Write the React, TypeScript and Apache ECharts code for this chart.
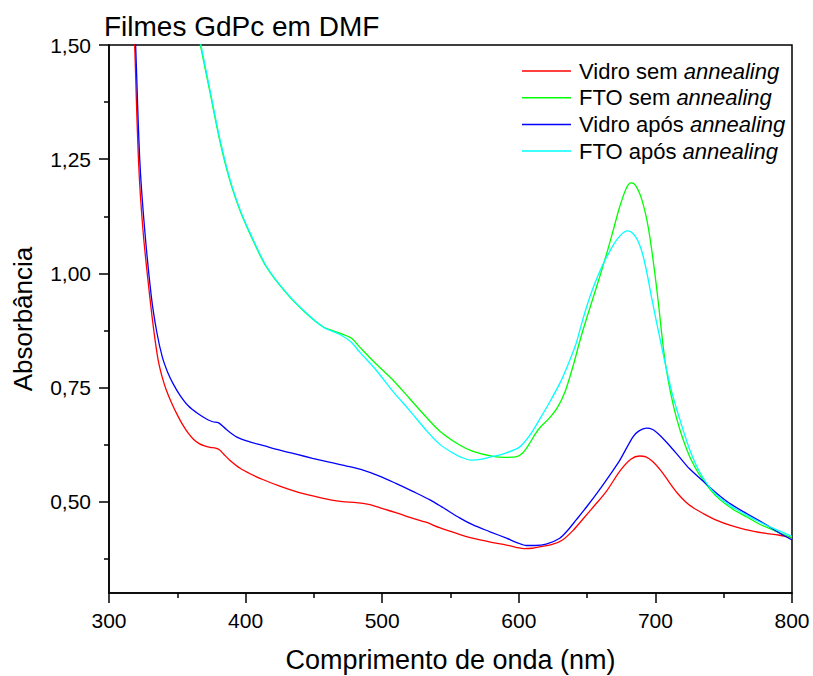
import React, { useEffect, useRef } from "react";
import * as echarts from "echarts";

// [comprimento de onda (nm), absorbância]
const vidroSemAnnealing = [
  [316, 1.76], [318.8, 1.5], [321.7, 1.24], [325, 1.09], [329.8, 0.95], [333, 0.87], [336, 0.81],
  [339, 0.772], [342, 0.744], [346, 0.715], [350, 0.69], [354, 0.668], [358, 0.65], [362, 0.636],
  [366, 0.627], [370, 0.622], [374, 0.619], [378, 0.617], [381, 0.613], [384, 0.604], [388, 0.592],
  [396, 0.573], [404, 0.56], [413, 0.548], [425, 0.534], [437, 0.522], [450, 0.512], [462, 0.504],
  [471, 0.5], [481, 0.498], [490, 0.494], [498, 0.487], [510, 0.476], [522, 0.464], [532, 0.455],
  [542, 0.443], [557, 0.428], [566, 0.42], [580, 0.411], [591, 0.405], [598, 0.4], [604, 0.397],
  [610, 0.398], [615, 0.401], [625, 0.407], [632, 0.416], [640, 0.438], [647, 0.462], [655, 0.49],
  [664, 0.522], [674, 0.567], [682, 0.593], [688.5, 0.6], [693, 0.598], [698, 0.588], [704, 0.568],
  [710, 0.543], [716, 0.519], [722, 0.5], [728, 0.486], [735, 0.474], [745, 0.459], [755, 0.448],
  [766, 0.439], [780, 0.431], [790, 0.427], [800, 0.421],
];

const ftoSemAnnealing = [
  [360, 1.61], [366.9, 1.5], [373.7, 1.4], [381, 1.292], [388.4, 1.204], [395.7, 1.139], [403, 1.088],
  [415, 1.015], [430, 0.956], [444.5, 0.912], [456.7, 0.883], [469, 0.869], [477.5, 0.858],
  [483.4, 0.839], [495, 0.803], [508, 0.766], [520, 0.726], [532, 0.686], [542, 0.655], [556.7, 0.624],
  [566.5, 0.61], [581, 0.599], [590, 0.597], [598, 0.598], [603, 0.607], [608, 0.628], [612, 0.648],
  [616, 0.664], [622, 0.682], [628, 0.705], [634, 0.742], [640, 0.8], [645, 0.855], [650, 0.905],
  [655, 0.952], [660, 1.0], [665, 1.05], [669, 1.093], [673, 1.137], [676.3, 1.168], [679, 1.188],
  [681.7, 1.198], [684, 1.197], [686, 1.19], [688, 1.178], [690, 1.162], [692, 1.14], [694, 1.113],
  [696, 1.078], [698, 1.036], [700, 0.99], [702, 0.94], [704, 0.885], [706, 0.832], [708, 0.79],
  [710.5, 0.748], [714, 0.7], [718, 0.657], [722, 0.622], [726, 0.593], [732, 0.56], [740, 0.527],
  [747, 0.505], [757, 0.483], [766.6, 0.467], [776, 0.451], [786, 0.438], [800, 0.42],
];

const vidroAposAnnealing = [
  [316, 1.78], [319.5, 1.5], [322.5, 1.25], [326, 1.1], [331, 0.949], [335, 0.871], [339, 0.817],
  [343, 0.783], [347, 0.758], [352, 0.733], [358, 0.71], [365, 0.693], [372, 0.68], [376, 0.675],
  [380, 0.673], [386, 0.658], [393.3, 0.642], [403, 0.631], [414, 0.622], [425, 0.613], [437, 0.604],
  [449, 0.595], [462, 0.586], [474, 0.578], [486, 0.569], [498, 0.556], [510, 0.54], [522, 0.523],
  [535, 0.504], [545, 0.486], [557, 0.464], [566.5, 0.449], [579, 0.434], [591, 0.42], [599, 0.41],
  [605.6, 0.404], [612, 0.404], [620, 0.407], [630, 0.42], [636, 0.438], [642, 0.46], [650, 0.49],
  [659, 0.526], [667, 0.56], [674, 0.591], [683.6, 0.642], [688, 0.655], [693.4, 0.661], [698, 0.658],
  [703, 0.646], [710, 0.624], [717.8, 0.597], [725, 0.572], [736, 0.542], [745, 0.518], [754, 0.497],
  [765, 0.477], [779, 0.453], [790, 0.433], [800, 0.416],
];

const ftoAposAnnealing = [
  [360, 1.61], [367.3, 1.5], [374, 1.4], [381.3, 1.292], [388.7, 1.204], [396, 1.139], [403.3, 1.088],
  [415.3, 1.015], [430.3, 0.956], [444.8, 0.912], [457, 0.882], [469, 0.866], [477, 0.85],
  [483.4, 0.828], [495, 0.79], [508, 0.741], [520, 0.7], [532, 0.657], [542, 0.626], [552, 0.606],
  [558, 0.597], [565, 0.591], [573, 0.593], [581, 0.599], [591, 0.607], [600.7, 0.62], [608, 0.645],
  [615, 0.679], [622, 0.715], [630, 0.759], [636, 0.8], [642, 0.847], [646, 0.89], [650, 0.93],
  [654, 0.965], [658, 0.995], [662, 1.022], [666, 1.045], [670, 1.066], [674, 1.082], [677, 1.09],
  [679.5, 1.093], [682, 1.091], [685, 1.082], [688, 1.066], [691, 1.038], [694, 0.998], [697, 0.95],
  [700.7, 0.895], [704, 0.848], [707, 0.805], [712, 0.74], [717.7, 0.682], [725, 0.615], [732.4, 0.565],
  [742, 0.523], [754, 0.493], [766.6, 0.471], [776, 0.456], [786, 0.442], [800, 0.424],
];

const seriesNames = ["Vidro sem annealing", "FTO sem annealing", "Vidro após annealing", "FTO após annealing"];
const seriesColors = ["#ff0000", "#00ff00", "#0000ff", "#00ffff"];
const seriesData = [vidroSemAnnealing, ftoSemAnnealing, vidroAposAnnealing, ftoAposAnnealing];

const yMajorTicks = [0.5, 0.75, 1.0, 1.25, 1.5];
const yMinorTicks = [0.375, 0.625, 0.875, 1.125, 1.375];

const FONT = "'Liberation Sans', Arial, sans-serif";

export default function App() {
  const ref = useRef<HTMLDivElement>(null);
  useEffect(() => {
    if (!ref.current) return;
    const chart = echarts.init(ref.current, null, { renderer: "svg" });
    const fmt = (v: number) => v.toFixed(2).replace(".", ",");
    chart.setOption({
      animation: false,
      backgroundColor: "#ffffff",
      textStyle: { fontFamily: FONT },
      title: {
        text: "Filmes GdPc em DMF",
        left: 104,
        top: 12,
        padding: 0,
        textStyle: { fontFamily: FONT, fontSize: 28, fontWeight: "normal", color: "#000" },
      },
      legend: {
        orient: "vertical",
        left: 522,
        top: 60,
        padding: 0,
        itemWidth: 49,
        itemHeight: 1.5,
        itemGap: 4.7,
        icon: "rect",
        data: seriesNames.map((n, i) => ({ name: n, itemStyle: { color: seriesColors[i] } })),
        formatter: (name: string) => name.replace("annealing", "{i|annealing}"),
        textStyle: {
          fontFamily: FONT,
          fontSize: 22,
          lineHeight: 22,
          color: "#000",
          padding: [0, 0, 0, 3],
          rich: { i: { fontFamily: FONT, fontSize: 22, lineHeight: 22, fontStyle: "italic", color: "#000" } },
        },
      },
      grid: {
        left: 109,
        right: 21,
        top: 45,
        bottom: 83,
        outerBoundsMode: "none",
        containLabel: false,
        show: true,
        borderColor: "#000",
        borderWidth: 1.5,
        backgroundColor: "transparent",
      },
      xAxis: {
        type: "value",
        min: 300,
        max: 800,
        interval: 100,
        name: "Comprimento de onda (nm)",
        nameLocation: "middle",
        nameGap: 53,
        nameTextStyle: { fontFamily: FONT, fontSize: 27, color: "#000" },
        axisLine: { show: true, lineStyle: { color: "#000", width: 1.5 } },
        axisTick: { show: true, inside: false, length: 10, lineStyle: { color: "#000", width: 1.5 } },
        minorTick: { show: true, splitNumber: 2, length: 5, lineStyle: { color: "#000", width: 1.5 } },
        axisLabel: { fontFamily: FONT, fontSize: 21, color: "#000", margin: 17 },
        splitLine: { show: false },
      },
      yAxis: [
        {
          type: "value",
          min: 0.3,
          max: 1.5,
          name: "Absorbância",
          nameLocation: "middle",
          nameRotate: 90,
          nameGap: 73,
          nameTextStyle: { fontFamily: FONT, fontSize: 26, color: "#000" },
          axisLine: { show: true, lineStyle: { color: "#000", width: 1.5 } },
          axisTick: {
            show: true,
            inside: false,
            length: 10,
            customValues: yMajorTicks,
            lineStyle: { color: "#000", width: 1.5 },
          },
          axisLabel: {
            fontFamily: FONT,
            fontSize: 21,
            color: "#000",
            margin: 18,
            customValues: yMajorTicks,
            formatter: fmt,
          },
          splitLine: { show: false },
        },
        {
          type: "value",
          min: 0.3,
          max: 1.5,
          position: "left",
          axisLine: { show: false },
          axisTick: {
            show: true,
            inside: false,
            length: 5,
            customValues: yMinorTicks,
            lineStyle: { color: "#000", width: 1.5 },
          },
          axisLabel: { show: false },
          splitLine: { show: false },
        },
      ],
      series: seriesNames.map((n, i) => ({
        name: n,
        type: "line",
        yAxisIndex: 0,
        data: seriesData[i],
        showSymbol: false,
        symbol: "none",
        smooth: 0.3,
        clip: true,
        lineStyle: { color: seriesColors[i], width: 1.3 },
        itemStyle: { color: seriesColors[i] },
      })),
    });
    return () => chart.dispose();
  }, []);
  return (
    <div
      ref={ref}
      style={{ position: "fixed", left: 0, top: 0, width: 813, height: 676, background: "#fff" }}
    />
  );
}
